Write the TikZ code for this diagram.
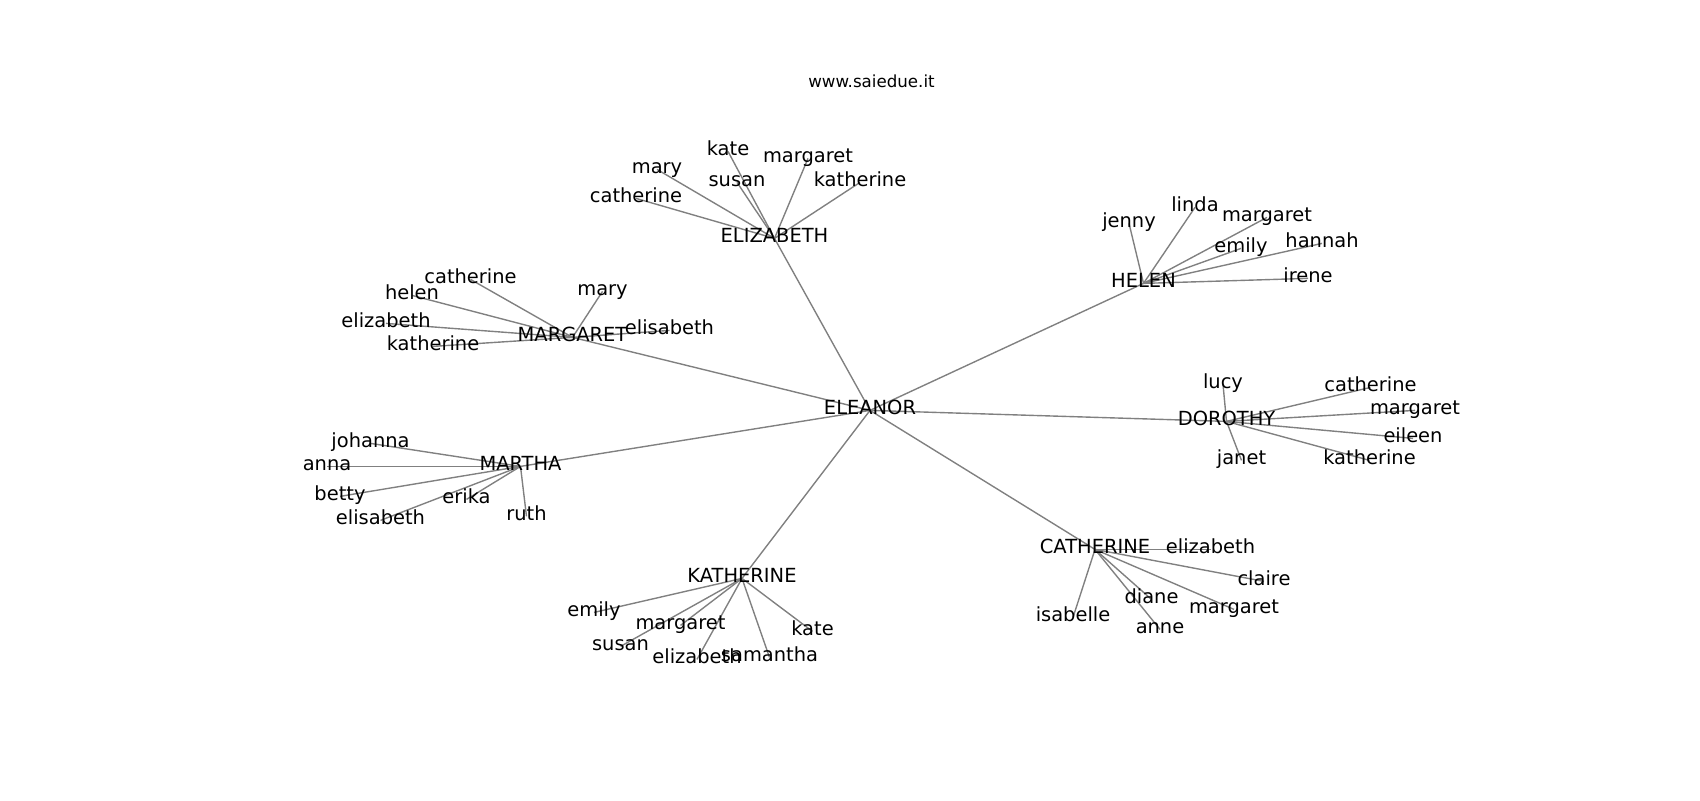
\documentclass[tikz,border=0pt]{standalone}
\usepackage{fontspec}
\setmainfont{DejaVu Sans}
\usetikzlibrary{backgrounds}
\tikzset{
  lbl/.style={anchor=base, inner sep=0pt, text height=0.76em, text depth=0.24em,
    font=\fontsize{14}{16}\selectfont, text=black},
  ttl/.style={anchor=base, inner sep=0pt, font=\fontsize{12}{14}\selectfont, text=black},
  edge/.style={draw=black!50, line width=1pt}
}
\begin{document}
\begin{tikzpicture}[x=0.72pt, y=-0.72pt]
\useasboundingbox (0,0) rectangle (1700,800);
\node[ttl] (title) at (871.5,87) {www.saiedue.it};
% root
\node[lbl] (ELEANOR) at (870,414) {ELEANOR};
% ELIZABETH
\node[lbl] (ELIZABETH) at (774.5,242) {ELIZABETH};
\node[lbl] (ez1) at (728,155) {kate};
\node[lbl] (ez2) at (808,162) {margaret};
\node[lbl] (ez3) at (657,173) {mary};
\node[lbl] (ez4) at (737,186) {susan};
\node[lbl] (ez5) at (860,186) {katherine};
\node[lbl] (ez6) at (636,202) {catherine};
% MARGARET
\node[lbl] (MARGARET) at (572.5,341) {MARGARET};
\node[lbl] (mg1) at (470.5,283) {catherine};
\node[lbl] (mg2) at (412,299) {helen};
\node[lbl] (mg3) at (602.5,295) {mary};
\node[lbl] (mg4) at (386,327) {elizabeth};
\node[lbl] (mg5) at (669.5,334) {elisabeth};
\node[lbl] (mg6) at (433,350) {katherine};
% MARTHA
\node[lbl] (MARTHA) at (520.5,470) {MARTHA};
\node[lbl] (mt1) at (370.5,447) {johanna};
\node[lbl] (mt2) at (327,470) {anna};
\node[lbl] (mt3) at (340,500) {betty};
\node[lbl] (mt4) at (466.5,503) {erika};
\node[lbl] (mt5) at (380.5,524) {elisabeth};
\node[lbl] (mt6) at (526.5,520) {ruth};
% KATHERINE
\node[lbl] (KATHERINE) at (742,582) {KATHERINE};
\node[lbl] (kt1) at (594,616) {emily};
\node[lbl] (kt2) at (680.5,629) {margaret};
\node[lbl] (kt3) at (812.5,635) {kate};
\node[lbl] (kt4) at (620.5,650) {susan};
\node[lbl] (kt5) at (697,663) {elizabeth};
\node[lbl] (kt6) at (769.5,661) {samantha};
% CATHERINE
\node[lbl] (CATHERINE) at (1095,553) {CATHERINE};
\node[lbl] (ct1) at (1210.5,553) {elizabeth};
\node[lbl] (ct2) at (1264,585) {claire};
\node[lbl] (ct3) at (1151.5,603) {diane};
\node[lbl] (ct4) at (1234,613) {margaret};
\node[lbl] (ct5) at (1073,621) {isabelle};
\node[lbl] (ct6) at (1160,633) {anne};
% HELEN
\node[lbl] (HELEN) at (1143.5,287) {HELEN};
\node[lbl] (hl1) at (1195,211) {linda};
\node[lbl] (hl2) at (1129,227) {jenny};
\node[lbl] (hl3) at (1267,221) {margaret};
\node[lbl] (hl4) at (1241,252) {emily};
\node[lbl] (hl5) at (1322,247) {hannah};
\node[lbl] (hl6) at (1308,282) {irene};
% DOROTHY
\node[lbl] (DOROTHY) at (1226.5,425) {DOROTHY};
\node[lbl] (dr1) at (1223,388) {lucy};
\node[lbl] (dr2) at (1370.5,391) {catherine};
\node[lbl] (dr3) at (1415,414) {margaret};
\node[lbl] (dr4) at (1413,442) {eileen};
\node[lbl] (dr5) at (1241.5,464) {janet};
\node[lbl] (dr6) at (1369.5,464) {katherine};
\begin{pgfonlayer}{background}
\foreach \p in {ELIZABETH,MARGARET,MARTHA,KATHERINE,CATHERINE,HELEN,DOROTHY}
  \draw[edge] (ELEANOR.center) -- (\p.center);
\foreach \i in {1,...,6} {
  \draw[edge] (ELIZABETH.center) -- (ez\i.center);
  \draw[edge] (MARGARET.center) -- (mg\i.center);
  \draw[edge] (MARTHA.center) -- (mt\i.center);
  \draw[edge] (KATHERINE.center) -- (kt\i.center);
  \draw[edge] (CATHERINE.center) -- (ct\i.center);
  \draw[edge] (HELEN.center) -- (hl\i.center);
  \draw[edge] (DOROTHY.center) -- (dr\i.center);
}
\end{pgfonlayer}
\end{tikzpicture}
\end{document}
